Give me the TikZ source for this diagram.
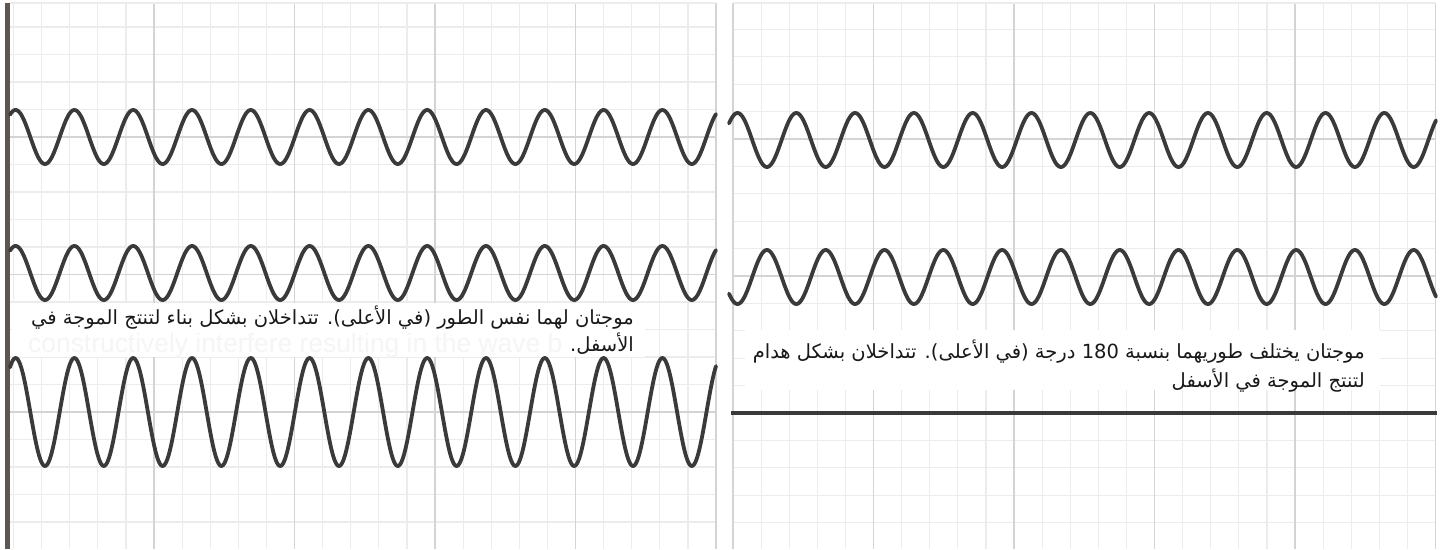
\documentclass[tikz,border=0pt]{standalone}
\usepackage{fontspec}
\newfontfamily\arabicfont[Script=Arabic]{DejaVu Sans}
\newfontfamily\ghostfont{Liberation Sans}
\TeXXeTstate=1
\usetikzlibrary{positioning}
\definecolor{wavegray}{HTML}{3A3A3A}
\definecolor{gridminor}{HTML}{ECECEC}
\definecolor{gridmajor}{HTML}{D4D4D4}
\definecolor{edgegray}{HTML}{5C5752}

\begin{document}
\begin{tikzpicture}[x=1pt, y=-1pt,
  wave/.style={draw=wavegray, line width=3.8pt, line cap=round, line join=round},
  flatline/.style={draw=wavegray, line width=3.8pt},
  minorline/.style={draw=gridminor, line width=1.2pt},
  majorline/.style={draw=gridmajor, line width=1.6pt},
  capbox/.style={fill=white, draw=none},
  arlabel/.style={font={\arabicfont\fontsize{19.5}{22}\selectfont}, text=black!90, inner sep=0pt},
  ghosttext/.style={font={\ghostfont\fontsize{26.4}{28}\selectfont}, text=black!4, inner sep=0pt}
]
  \useasboundingbox[fill=white] (0,0) rectangle (1450,549);

  % Gitter links
  \foreach \i in {0,...,25} {\draw[minorline] ({13.5+28.1*\i},3) -- ({13.5+28.1*\i},549);}
  \foreach \j in {1,...,19} {\draw[minorline] (9,{-0.5+27.5*\j}) -- (716,{-0.5+27.5*\j});}
  \foreach \i in {5,10,...,25} {\draw[majorline] ({13.5+28.1*\i},3) -- ({13.5+28.1*\i},549);}
  \foreach \j in {5,10,15} {\draw[majorline] (9,{-0.5+27.5*\j}) -- (716,{-0.5+27.5*\j});}
  \draw[minorline] (9,3) -- (716,3);

  % Gitter rechts
  \foreach \i in {0,...,25} {\draw[minorline] ({733+28.1*\i},3) -- ({733+28.1*\i},549);}
  \foreach \j in {1,...,19} {\draw[minorline] (733,{2+27.4*\j}) -- (1436,{2+27.4*\j});}
  \foreach \i in {0,5,...,25} {\draw[majorline] ({733+28.1*\i},3) -- ({733+28.1*\i},549);}
  \foreach \j in {5,10,15} {\draw[majorline] (733,{2+27.4*\j}) -- (1436,{2+27.4*\j});}
  \draw[minorline] (733,3) -- (1436,3);

  % Rand links
  \draw[draw=edgegray, line width=4.5pt] (7.5,3) -- (7.5,549);

  % Textfelder
  \fill[capbox] (12,303) rectangle (645,357);
  \fill[capbox] (745,330) rectangle (1380,390);

  % Wellen links (gleiche Phase)
  \draw[wave] plot[domain=10:716, samples=700] (\x, {137-27*cos(6.12245*(\x-15.6))});
  \draw[wave] plot[domain=10:716, samples=700] (\x, {273-27*cos(6.12245*(\x-15.6))});
  \draw[wave] plot[domain=10:716, samples=700] (\x, {412-54*cos(6.12245*(\x-15.6))});

  % Wellen rechts (180 Grad)
  \draw[wave] plot[domain=729:1436, samples=700] (\x, {140-27*cos(6.12245*(\x-737.5))});
  \draw[wave] plot[domain=729:1436, samples=700] (\x, {277+27*cos(6.12245*(\x-737.5))});
  \coordinate (flatA) at (731,413);
  \coordinate (flatB) at (1437,413);
  \draw[flatline] (flatA) -- (flatB);

  % Beschriftung
  \node[ghosttext, anchor=base west] (ghost) at (28,352) {constructively interfere resulting in the wave b};
  \node[arlabel, anchor=base east] (capL1) at (634,324)
    {\beginR موجتان لهما نفس الطور (في الأعلى). تتداخلان بشكل بناء لتنتج الموجة في\endR};
  \node[arlabel, anchor=base east] (capL2) at (634,351)
    {\beginR الأسفل.\endR};
  \node[arlabel, anchor=base east] (capR1) at (1365,358)
    {\beginR موجتان يختلف طوريهما بنسبة \beginL 180\endL{} درجة (في الأعلى). تتداخلان بشكل هدام\endR};
  \node[arlabel, anchor=base east] (capR2) at (1365,387)
    {\beginR لتنتج الموجة في الأسفل\endR};
\end{tikzpicture}
\end{document}
